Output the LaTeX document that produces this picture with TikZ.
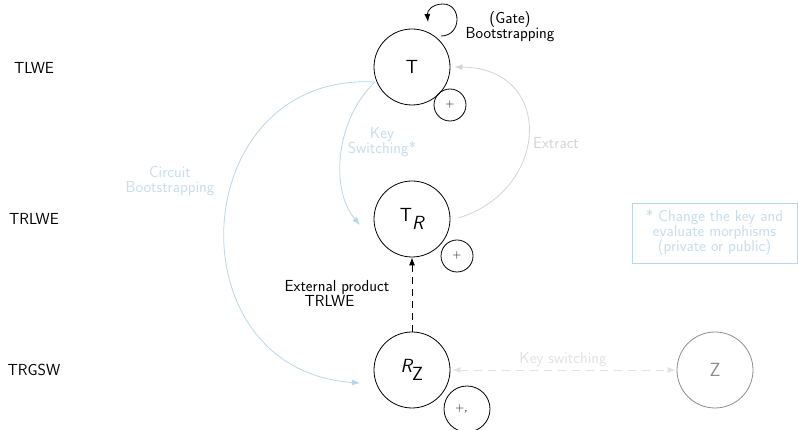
\documentclass[tikz,border=0pt]{standalone}
\usepackage{fontspec}
\usetikzlibrary{arrows.meta,calc}

\definecolor{paleblue}{HTML}{B9D6EA}
\definecolor{palebluetext}{HTML}{C6DDEE}
\definecolor{palegray}{HTML}{D4D4D4}
\definecolor{fadegray}{HTML}{E2E2E2}
\definecolor{midgray}{HTML}{8C8C8C}

\begin{document}
\begin{tikzpicture}[x=1pt,y=1pt,
  font=\sffamily\fontsize{16}{18}\selectfont,
  state/.style={circle,draw,line width=0.8pt,minimum size=76pt,inner sep=0pt,
    font=\sffamily\fontsize{19}{22}\selectfont},
  opcircle/.style={circle,draw,line width=0.8pt,inner sep=0pt,
    font=\sffamily\fontsize{12}{14}\selectfont},
  levellabel/.style={},
  bluelabel/.style={align=center,text=palebluetext},
  tip/.style={-{Latex[length=8pt,width=6pt]}},
]
\useasboundingbox (0,0) rectangle (798,430);

% ciphertext levels
\node[levellabel] (tlwe)  at (34,362) {TLWE};
\node[levellabel] (trlwe) at (34,211) {TRLWE};
\node[levellabel] (trgsw) at (34,60)  {TRGSW};

% main states
\node[state] (T)  at (412,363) {T};
\node[state] (TR) at (412,211) {T$_{\textsf{\slshape R}}$};
\node[state] (RZ) at (412,60)  {{\slshape R}$_{\textsf{Z}}$};
\node[state,draw=midgray,text=midgray] (Z) at (715,60) {Z};

% homomorphic operations available at each level
\node[opcircle,minimum size=32pt] (pT)  at (450,325) {+};
\node[opcircle,minimum size=32pt] (pTR) at (457,174) {+};
\node[opcircle,minimum size=46pt] (pRZ) at (467,21)  {+,\,\phantom{+}};

% (gate) bootstrapping self loop
\draw[line width=0.8pt,tip]
  ($(T.center)+(29,31)$) .. controls ($(T.center)+(50,31)$) and ($(T.center)+(50,63)$) ..
  ($(T.center)+(31,63)$) .. controls ($(T.center)+(20,63)$) and ($(T.center)+(15,56)$) ..
  ($(T.center)+(16,45)$);
\node[align=center] (gate) at (510,403) {(Gate)\\[-3pt]Bootstrapping};

% extract: TRLWE -> TLWE
\draw[palegray,line width=0.8pt,tip]
  ($(TR.east)+(8,1)$) .. controls (550,240) and (555,362) .. ($(T.east)+(4,0)$);
\node[text=palegray] (extract) at (556,287) {Extract};

% key switching: TLWE -> TRLWE
\draw[paleblue,line width=0.8pt,tip]
  ($(T.center)+(-37,-15)$) .. controls (335,310) and (330,240) .. ($(TR.center)+(-52,-6)$);
\node[bluelabel] (kslabel) at (382,288) {Key\\[-3pt]Switching*};

% circuit bootstrapping: TLWE -> TRGSW
\draw[paleblue,line width=0.8pt,tip]
  ($(T.center)+(-37,-15)$) .. controls (185,358) and (170,60) .. ($(RZ.center)+(-52,-13)$);
\node[bluelabel] (cblabel) at (170,249) {Circuit\\[-3pt]Bootstrapping};

% external product
\draw[line width=0.8pt,dash pattern=on 7pt off 5pt,tip] (RZ.north) -- (TR.south);
\node[align=left] (extlabel) at (337,137) {External product\\[-3pt]\hspace*{20pt}TRLWE};

% key switching between rings
\draw[fadegray,line width=0.8pt,dash pattern=on 8pt off 6pt,
  {Latex[length=8pt,width=6pt]}-{Latex[length=8pt,width=6pt]}]
  ($(RZ.east)+(2,0)$) -- ($(Z.west)+(-1,0)$);
\node[text=fadegray] (kslabel2) at (563,70) {Key switching};

% footnote
\node[draw=paleblue,line width=0.8pt,text=palebluetext,align=center,
  minimum width=165pt,minimum height=60pt,inner sep=2pt] (note) at (714.5,197)
  {* Change the key and\\[-3pt]evaluate morphisms\\[-3pt](private or public)};
\end{tikzpicture}
\end{document}
